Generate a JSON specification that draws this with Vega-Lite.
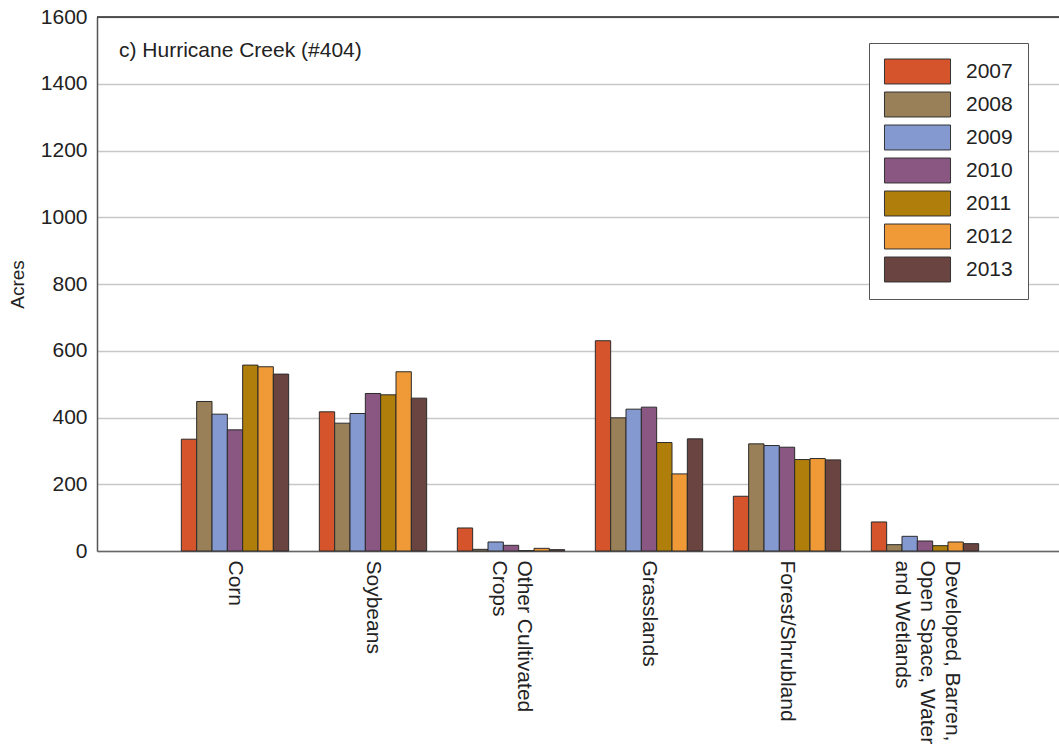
{
  "$schema": "https://vega.github.io/schema/vega-lite/v6.json",
  "autosize": "none",
  "padding": {"left": 97, "top": 17, "right": 0, "bottom": 204},
  "width": 962,
  "height": 534,
  "title": {
    "text": "c) Hurricane Creek (#404)",
    "anchor": "start",
    "frame": "group",
    "offset": -55,
    "dx": 22,
    "fontSize": 21,
    "fontWeight": "normal",
    "color": "#222222"
  },
  "config": {
    "font": "Liberation Sans",
    "view": {"stroke": null},
    "axis": {"labelColor": "#222222", "titleColor": "#222222", "titleFontWeight": "normal"}
  },
  "data": {
    "values": [
      {"category": "Corn", "year": "2007", "acres": 335},
      {"category": "Corn", "year": "2008", "acres": 448},
      {"category": "Corn", "year": "2009", "acres": 410},
      {"category": "Corn", "year": "2010", "acres": 363},
      {"category": "Corn", "year": "2011", "acres": 557},
      {"category": "Corn", "year": "2012", "acres": 552},
      {"category": "Corn", "year": "2013", "acres": 530},
      {"category": "Soybeans", "year": "2007", "acres": 417},
      {"category": "Soybeans", "year": "2008", "acres": 383},
      {"category": "Soybeans", "year": "2009", "acres": 412},
      {"category": "Soybeans", "year": "2010", "acres": 472},
      {"category": "Soybeans", "year": "2011", "acres": 468},
      {"category": "Soybeans", "year": "2012", "acres": 537},
      {"category": "Soybeans", "year": "2013", "acres": 458},
      {"category": "Other Cultivated Crops", "year": "2007", "acres": 69},
      {"category": "Other Cultivated Crops", "year": "2008", "acres": 5},
      {"category": "Other Cultivated Crops", "year": "2009", "acres": 27},
      {"category": "Other Cultivated Crops", "year": "2010", "acres": 17},
      {"category": "Other Cultivated Crops", "year": "2011", "acres": 1},
      {"category": "Other Cultivated Crops", "year": "2012", "acres": 8},
      {"category": "Other Cultivated Crops", "year": "2013", "acres": 4},
      {"category": "Grasslands", "year": "2007", "acres": 630},
      {"category": "Grasslands", "year": "2008", "acres": 399},
      {"category": "Grasslands", "year": "2009", "acres": 425},
      {"category": "Grasslands", "year": "2010", "acres": 431},
      {"category": "Grasslands", "year": "2011", "acres": 325},
      {"category": "Grasslands", "year": "2012", "acres": 231},
      {"category": "Grasslands", "year": "2013", "acres": 336},
      {"category": "Forest/Shrubland", "year": "2007", "acres": 164},
      {"category": "Forest/Shrubland", "year": "2008", "acres": 321},
      {"category": "Forest/Shrubland", "year": "2009", "acres": 316},
      {"category": "Forest/Shrubland", "year": "2010", "acres": 311},
      {"category": "Forest/Shrubland", "year": "2011", "acres": 274},
      {"category": "Forest/Shrubland", "year": "2012", "acres": 277},
      {"category": "Forest/Shrubland", "year": "2013", "acres": 273},
      {"category": "Developed, Barren, Open Space, Water and Wetlands", "year": "2007", "acres": 87},
      {"category": "Developed, Barren, Open Space, Water and Wetlands", "year": "2008", "acres": 19},
      {"category": "Developed, Barren, Open Space, Water and Wetlands", "year": "2009", "acres": 44},
      {"category": "Developed, Barren, Open Space, Water and Wetlands", "year": "2010", "acres": 30},
      {"category": "Developed, Barren, Open Space, Water and Wetlands", "year": "2011", "acres": 16},
      {"category": "Developed, Barren, Open Space, Water and Wetlands", "year": "2012", "acres": 27},
      {"category": "Developed, Barren, Open Space, Water and Wetlands", "year": "2013", "acres": 22}
    ]
  },
  "layer": [
    {
      "mark": {"type": "bar", "stroke": "#2b2b2b", "strokeWidth": 1},
      "encoding": {
        "x": {
          "field": "category",
          "type": "nominal",
          "sort": ["Corn", "Soybeans", "Other Cultivated Crops", "Grasslands", "Forest/Shrubland", "Developed, Barren, Open Space, Water and Wetlands"],
          "scale": {"range": [0, 966], "paddingInner": 0, "paddingOuter": 0.5},
          "axis": {
            "title": null,
            "labelAngle": 90,
            "labelAlign": "left",
            "labelBaseline": "middle",
            "labelPadding": 9,
            "labelFontSize": 21,
            "labelLineHeight": 25,
            "labelLimit": 0,
            "labelOffset": {
              "condition": [
                {"test": "datum.value == 'Other Cultivated Crops'", "value": 13},
                {"test": "datum.value == 'Developed, Barren, Open Space, Water and Wetlands'", "value": 27}
              ],
              "value": 0
            },
            "ticks": false,
            "domainColor": "#666666",
            "domainWidth": 1.5,
            "labelExpr": "datum.label == 'Other Cultivated Crops' ? ['Other Cultivated', 'Crops'] : datum.label == 'Developed, Barren, Open Space, Water and Wetlands' ? ['Developed, Barren,', 'Open Space, Water', 'and Wetlands'] : datum.label"
          }
        },
        "xOffset": {
          "field": "year",
          "type": "nominal",
          "scale": {"paddingInner": 0, "paddingOuter": 1.13}
        },
        "y": {
          "field": "acres",
          "type": "quantitative",
          "scale": {"domain": [0, 1600]},
          "axis": {
            "title": "Acres",
            "titleFontSize": 19,
            "titlePadding": 13,
            "format": "d",
            "values": [0, 200, 400, 600, 800, 1000, 1200, 1400, 1600],
            "labelFontSize": 21,
            "labelPadding": 10,
            "ticks": false,
            "domainColor": "#555555",
            "domainWidth": 1.5,
            "gridColor": "#c8c8c8",
            "gridWidth": 1.5
          }
        },
        "color": {
          "field": "year",
          "type": "nominal",
          "scale": {
            "domain": ["2007", "2008", "2009", "2010", "2011", "2012", "2013"],
            "range": ["#d5542b", "#9a8058", "#8499d0", "#8a5783", "#b07e0b", "#f09a37", "#6a4441"]
          },
          "legend": {
            "title": null,
            "orient": "none",
            "legendX": 772,
            "legendY": 26,
            "symbolType": "M-2.54,-0.96H2.54V0.96H-2.54Z",
            "symbolSize": 676,
            "symbolOffset": 20,
            "symbolStrokeColor": "#333333",
            "symbolStrokeWidth": 1,
            "symbolOpacity": 1,
            "labelFontSize": 21,
            "labelColor": "#222222",
            "labelOffset": 35,
            "rowPadding": 4,
            "padding": 15,
            "strokeColor": "#555555",
            "fillColor": "#ffffff"
          }
        }
      }
    },
    {
      "data": {"values": [{"top": 1600}]},
      "mark": {"type": "rule", "color": "#222222", "strokeWidth": 1.5},
      "encoding": {"y": {"field": "top", "type": "quantitative"}}
    }
  ]
}
